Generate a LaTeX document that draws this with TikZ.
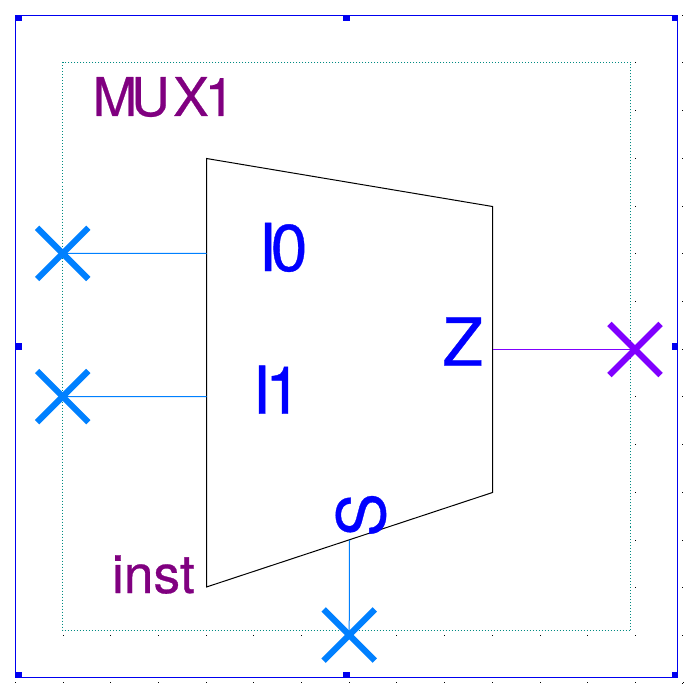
\documentclass[tikz,border=0pt]{standalone}
\usepackage{fontspec}
\setmainfont{TeX Gyre Heros}[FakeBold=0.5]
\usetikzlibrary{calc}
\definecolor{frameblue}{RGB}{0,0,240}
\definecolor{boxteal}{RGB}{0,139,130}
\definecolor{pinblue}{RGB}{0,128,255}
\definecolor{pinpurple}{RGB}{128,0,255}
\definecolor{labpurple}{RGB}{128,0,128}
\definecolor{labblue}{RGB}{0,0,255}
\tikzset{
  frameline/.style={draw=frameblue,line width=0.75pt},
  handle/.style={fill=frameblue},
  boundary/.style={draw=boxteal,line width=0.75pt,dash pattern=on 0.75pt off 1.5pt},
  body/.style={draw=black,line width=0.75pt,line join=miter},
  wire/.style={line width=0.75pt},
  pinx/.style={line width=4.6pt,line cap=butt},
  griddot/.style={fill=black},
  txt/.style={inner sep=0pt,outer sep=0pt,anchor=base west},
  biglab/.style={txt,text=labblue,font=\fontsize{49.5pt}{50pt}\selectfont},
  smalllab/.style={txt,text=labpurple,font=\fontsize{40pt}{40pt}\selectfont},
}
\begin{document}
\begin{tikzpicture}[x=0.75pt,y=-0.75pt]
\useasboundingbox (0,0) rectangle (696,688);
% grid dots
\foreach \i in {1,...,13}{
  \pgfmathsetmacro{\p}{15.3+47.7*\i}
  \fill[griddot] (\p-0.5,634.8) rectangle +(1,1);
  \fill[griddot] (634.8,\p-0.5) rectangle +(1,1);
}
\foreach \i in {0,...,14}{
  \pgfmathsetmacro{\p}{15.3+47.7*\i}
  \fill[griddot] (\p-0.5,682.3) rectangle +(1,1);
  \fill[griddot] (682.3,\p-0.5) rectangle +(1,1);
}
% outer frame
\draw[frameline] (15.5,15.5) rectangle (677.5,677.5);
\foreach \hx/\hy in {15/15,343/15,671.5/15,15/343,671.5/343,15/671.5,343/671.5,671.5/671.5}
  \fill[handle] (\hx,\hy) rectangle +(6.5,6.5);
% dotted boundary
\draw[boundary] (62.5,62.5) rectangle (630.5,630.5);
% body
\draw[body] (206.5,158.5) -- (492.5,206.5) -- (492.5,492.5) -- (206.5,587) -- cycle;
% pins
\coordinate (p0) at (62.7,253.4);
\coordinate (p1) at (62.7,396.6);
\coordinate (ps) at (349.2,635);
\coordinate (pz) at (635,349.5);
\coordinate (b0) at (206.5,253.5);
\coordinate (b1) at (206.5,396.5);
\coordinate (bs) at (349.5,540);
\coordinate (bz) at (492.5,349.5);
\draw[wire,pinblue] (p0) -- (b0);
\draw[wire,pinblue] (p1) -- (b1);
\draw[wire,pinblue] (ps) -- (bs);
\draw[wire,pinpurple] (pz) -- (bz);
\foreach \c/\col in {p0/pinblue,p1/pinblue,ps/pinblue,pz/pinpurple}{
  \draw[pinx,\col] ($(\c)+(-25.6,-25.6)$) -- ($(\c)+(25.6,25.6)$);
  \draw[pinx,\col] ($(\c)+(-25.6,25.6)$) -- ($(\c)+(25.6,-25.6)$);
}
% labels
\node[smalllab] (mux) at (92.7,116) {M\kern-4.4pt U\kern2.55pt X\kern-3pt 1};
\node[smalllab] (inst) at (112,593) {inst};
\node[biglab] (i0) at (258.5,271) {I\kern-4.6pt 0};
\node[biglab] (i1) at (252.5,413.7) {I\kern-4.4pt 1};
\node[biglab] (z) at (442.6,365.7) {Z};
\node[biglab,rotate=90] (s) at (385,537) {S};
\end{tikzpicture}
\end{document}
